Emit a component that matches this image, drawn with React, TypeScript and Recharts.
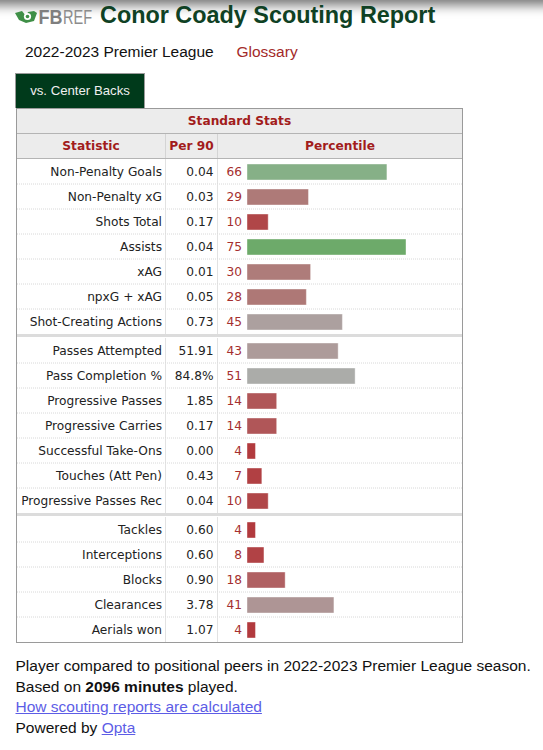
import React from 'react'
import { BarChart, Bar, XAxis, YAxis, Cell } from 'recharts'

// Standard stats, split in the three blocks of the report
const attackStats = ['Non-Penalty Goals', 'Non-Penalty xG', 'Shots Total', 'Assists', 'xAG', 'npxG + xAG', 'Shot-Creating Actions']
const attackPer90 = ['0.04', '0.03', '0.17', '0.04', '0.01', '0.05', '0.73']
const attackPct = [66, 29, 10, 75, 30, 28, 45]

const passingStats = ['Passes Attempted', 'Pass Completion %', 'Progressive Passes', 'Progressive Carries', 'Successful Take-Ons', 'Touches (Att Pen)', 'Progressive Passes Rec']
const passingPer90 = ['51.91', '84.8%', '1.85', '0.17', '0.00', '0.43', '0.04']
const passingPct = [43, 51, 14, 14, 4, 7, 10]

const defenseStats = ['Tackles', 'Interceptions', 'Blocks', 'Clearances', 'Aerials won']
const defensePer90 = ['0.60', '0.60', '0.90', '3.78', '1.07']
const defensePct = [4, 8, 18, 41, 4]

const ROW_H = 25
const CHART_W = 445
const AXIS_W = 230
const TABLE_FONT = '"DejaVu Sans", Verdana, sans-serif'
const PAGE_FONT = '"Liberation Sans", Arial, sans-serif'

// percentile -> bar colour (red for low, grey in the middle, green for high)
const COLOR_STOPS: [number, string][] = [
  [0, '#b3353a'],
  [4, '#b23a3e'],
  [10, '#b04648'],
  [14, '#b05658'],
  [18, '#b06062'],
  [29, '#ae7a78'],
  [41, '#ae9595'],
  [45, '#aca09f'],
  [51, '#abaca9'],
  [66, '#86b087'],
  [75, '#6daa6a'],
  [100, '#4a9a48'],
]

function hex(c: string) {
  return [1, 3, 5].map(i => parseInt(c.slice(i, i + 2), 16))
}

function pctColor(p: number) {
  for (let i = 1; i < COLOR_STOPS.length; i++) {
    const [p1, c1] = COLOR_STOPS[i]
    const [p0, c0] = COLOR_STOPS[i - 1]
    if (p <= p1) {
      const t = (p - p0) / (p1 - p0)
      const a = hex(c0)
      const b = hex(c1)
      const m = a.map((v, k) => Math.round(v + (b[k] - v) * t))
      return `rgb(${m[0]},${m[1]},${m[2]})`
    }
  }
  return COLOR_STOPS[COLOR_STOPS.length - 1][1]
}

function makeRows(stats: string[], per90: string[], pct: number[]) {
  return stats.map((stat, i) => ({ stat, per90: per90[i], pct: pct[i] }))
}

function StatGroup({ stats, per90, pct }: { stats: string[]; per90: string[]; pct: number[] }) {
  const rows = makeRows(stats, per90, pct)

  const Tick = (props: any) => {
    const { y, payload } = props
    const i = payload.index ?? stats.indexOf(payload.value)
    const row = rows[i]
    const half = ROW_H / 2
    return (
      <g>
        <line x1={148.5} x2={148.5} y1={y - half} y2={y + half} stroke="#e2e2e2" />
        <line x1={200.5} x2={200.5} y1={y - half} y2={y + half} stroke="#e2e2e2" />
        {i < rows.length - 1 && (
          <line x1={0} x2={CHART_W} y1={y + half} y2={y + half} stroke="#d8d8d8" strokeDasharray="1 1" />
        )}
        <text x={145} y={y} dy="0.36em" textAnchor="end" fill="#222" fontSize={12.2} fontFamily={TABLE_FONT}>
          {row.stat}
        </text>
        <text x={196.5} y={y} dy="0.36em" textAnchor="end" fill="#222" fontSize={12.2} fontFamily={TABLE_FONT}>
          {row.per90}
        </text>
        <text x={225} y={y} dy="0.36em" textAnchor="end" fill="#a52f2f" fontSize={12.2} fontFamily={TABLE_FONT}>
          {row.pct}
        </text>
      </g>
    )
  }

  return (
    <BarChart
      width={CHART_W}
      height={rows.length * ROW_H}
      data={rows}
      layout="vertical"
      margin={{ top: 0, right: 3, bottom: 0, left: 0 }}
    >
      <XAxis type="number" domain={[0, 100]} hide />
      <YAxis
        type="category"
        dataKey="stat"
        width={AXIS_W}
        axisLine={false}
        tickLine={false}
        interval={0}
        tick={<Tick />}
      />
      <Bar dataKey="pct" barSize={16} isAnimationActive={false} stroke="rgba(255,255,255,0.4)" strokeWidth={1}>
        {rows.map((r, i) => (
          <Cell key={`c-${i}`} fill={pctColor(r.pct)} />
        ))}
      </Bar>
    </BarChart>
  )
}

function Logo() {
  return (
    <svg width={104} height={24} style={{ position: 'absolute', left: 14, top: 7 }}>
      <path d="M1 6 L8 4 L12 9 L14 5 L20 4 L23 6 L20 14 L12 16 L5 13 Z" fill="#3f8f47" />
      <circle cx={13.5} cy={9.5} r={3.6} fill="#fff" />
      <circle cx={13.5} cy={9.5} r={1.8} fill="#3f8f47" />
      <text x={24.5} y={17} fontFamily={PAGE_FONT} fontWeight="bold" fontSize={20} fill="#7f7f7f" textLength={24} lengthAdjust="spacingAndGlyphs">
        FB
      </text>
      <text x={49} y={17} fontFamily={PAGE_FONT} fontSize={20} fill="#8c8c8c" textLength={29} lengthAdjust="spacingAndGlyphs">
        REF
      </text>
    </svg>
  )
}

const abs = (left: number, top: number, extra: React.CSSProperties = {}): React.CSSProperties => ({
  position: 'absolute',
  left,
  top,
  ...extra,
})

export default function App() {
  const headCell: React.CSSProperties = {
    position: 'absolute',
    top: 0,
    height: 24,
    lineHeight: '24px',
    textAlign: 'center',
    fontFamily: TABLE_FONT,
    fontWeight: 'bold',
    fontSize: 12.2,
    color: '#a21c1c',
  }

  return (
    <div style={{ position: 'absolute', left: 0, top: 0, width: 543, height: 750, background: '#fff', overflow: 'hidden', fontFamily: PAGE_FONT }}>
      {/* top shadow */}
      <div style={abs(-20, -14, { width: 600, height: 14, boxShadow: '0 0 12px 5px rgba(0,0,0,0.55)' })} />

      <Logo />
      <div style={abs(100, 4, { fontSize: 23.4, lineHeight: '23.4px', fontWeight: 'bold', color: '#0f4124', whiteSpace: 'nowrap' })}>
        Conor Coady Scouting Report
      </div>

      <div style={abs(25, 43.5, { fontSize: 15.5, lineHeight: '15.5px', color: '#111', whiteSpace: 'nowrap' })}>
        2022-2023 Premier League
      </div>
      <div style={abs(236.5, 43.5, { fontSize: 15.5, lineHeight: '15.5px', color: '#a32a2a', whiteSpace: 'nowrap' })}>
        Glossary
      </div>

      {/* tab */}
      <div
        style={abs(15, 73, {
          width: 130,
          height: 35,
          boxSizing: 'border-box',
          background: '#003a1b',
          border: '1px solid #9a9a9a',
          borderBottom: 'none',
          color: '#f0f0f0',
          fontSize: 13.2,
          lineHeight: '34px',
          textAlign: 'center',
        })}
      >
        vs. Center Backs
      </div>

      {/* table */}
      <div style={abs(16, 108, { width: 447, height: 535, boxSizing: 'border-box', border: '1px solid #9a9a9a', background: '#fff' })}>
        <div style={{ position: 'absolute', left: 0, top: 0, width: 445, height: 24, background: '#ececec', borderBottom: '1px solid #b4b4b4' }}>
          <div style={{ ...headCell, left: 0, width: 445 }}>Standard Stats</div>
        </div>
        <div style={{ position: 'absolute', left: 0, top: 25, width: 445, height: 24, background: '#ececec', borderBottom: '1px solid #b4b4b4' }}>
          <div style={{ ...headCell, left: 0, width: 148, borderRight: '1px solid #d4d4d4' }}>Statistic</div>
          <div style={{ ...headCell, left: 149, width: 51, borderRight: '1px solid #d4d4d4' }}>Per 90</div>
          <div style={{ ...headCell, left: 201, width: 244 }}>Percentile</div>
        </div>

        <div style={{ position: 'absolute', left: 0, top: 50 }}>
          <StatGroup stats={attackStats} per90={attackPer90} pct={attackPct} />
        </div>
        <div style={{ position: 'absolute', left: 0, top: 225, width: 445, height: 3, background: '#dcdcdc' }} />
        <div style={{ position: 'absolute', left: 0, top: 229 }}>
          <StatGroup stats={passingStats} per90={passingPer90} pct={passingPct} />
        </div>
        <div style={{ position: 'absolute', left: 0, top: 404, width: 445, height: 3, background: '#dcdcdc' }} />
        <div style={{ position: 'absolute', left: 0, top: 408 }}>
          <StatGroup stats={defenseStats} per90={defensePer90} pct={defensePct} />
        </div>
      </div>

      {/* footer */}
      <div style={abs(15.5, 656, { fontSize: 15.5, lineHeight: '20.7px', color: '#111', whiteSpace: 'nowrap' })}>
        <div>Player compared to positional peers in 2022-2023 Premier League season.</div>
        <div>
          Based on <b>2096 minutes</b> played.
        </div>
        <div>
          <span style={{ color: '#5d5de6', textDecoration: 'underline' }}>How scouting reports are calculated</span>
        </div>
        <div>
          Powered by <span style={{ color: '#5d5de6', textDecoration: 'underline' }}>Opta</span>
        </div>
      </div>
    </div>
  )
}
